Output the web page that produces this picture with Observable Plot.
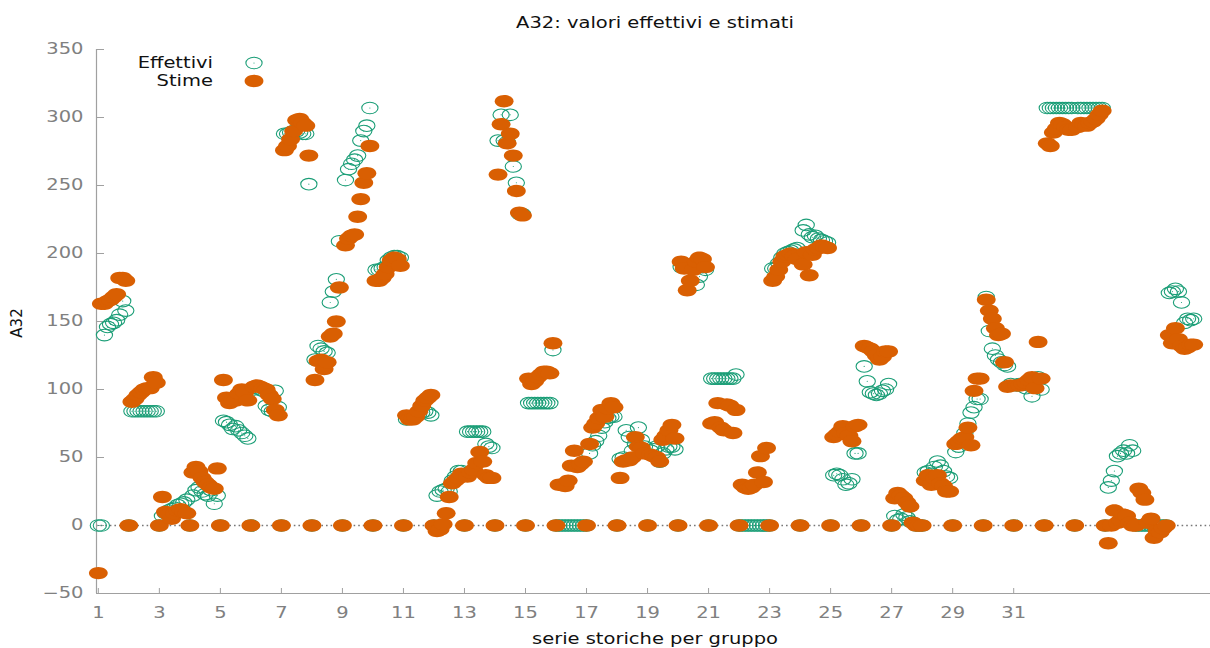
<!DOCTYPE html>
<html><head><meta charset="utf-8">
<script src="https://cdn.jsdelivr.net/npm/d3@7"></script>
<script src="https://cdn.jsdelivr.net/npm/@observablehq/plot@0.6"></script>
<style>body{margin:0;background:#fff} #chart{width:1210px;height:648px}</style>
</head><body><div id="chart"></div>
<script>
// ---- data ----
const groups = d3.range(1, 37); // 36 serie storiche, one per integer x
// each group: 10 observations at x = group + k/10 (k = 0..9)
const effettivi = [
  [0,0,140,146,148,149,151,155,165,158],
  [0,84,84,84,84,84,84,84,84,84],
  [0,7,9,11,12,13,15,16,17,19],
  [0,22,26,28,25,23,22,26,16,22],
  [0,77,76,74,71,73,70,68,66,64],
  [0,100,101,100,99,88,85,84,99,87],
  [0,288,288,289,290,290,289,288,288,251],
  [0,122,132,130,128,127,164,172,181,209],
  [0,254,262,266,269,272,283,290,294,307],
  [0,188,188,189,190,195,197,198,198,197],
  [0,78,79,80,81,82,83,84,83,81],
  [0,22,25,26,27,25,33,36,40,40],
  [0,69,69,69,69,69,69,60,58,57],
  [0,283,302,283,282,302,264,252,229,229],
  [0,90,90,90,90,90,90,90,90,129],
  [0,0,0,0,0,0,0,0,0,0],
  [0,53,59,62,66,72,76,79,80,80],
  [0,49,50,70,65,55,60,72,63,58],
  [0,55,56,58,47,53,56,58,58,56],
  [0,190,191,191,192,190,177,183,190,188],
  [0,108,108,108,108,108,108,108,108,111],
  [0,0,0,0,0,0,0,0,0,0],
  [0,189,189,193,197,200,201,202,203,204],
  [0,217,221,214,212,213,211,210,209,208],
  [0,37,38,37,34,30,31,34,53,53],
  [0,117,106,98,97,96,97,99,100,104],
  [0,7,4,5,8,6,3,2,0,0],
  [0,39,40,38,43,47,44,40,36,35],
  [0,54,58,63,68,75,83,87,93,93],
  [0,168,143,130,125,122,120,118,117,104],
  [0,103,104,104,101,103,95,107,109,100],
  [0,307,307,307,307,307,307,307,307,307],
  [0,307,307,307,307,307,307,307,307,307],
  [0,28,33,40,51,53,55,53,59,55],
  [0,0,0,0,0,0,0,0,0,0],
  [0,171,172,174,172,164,149,152,151,152]
];
const stime = [
  [-35,163,163,165,166,168,170,182,182,180],
  [0,91,93,96,98,100,101,101,109,105],
  [0,21,10,8,5,9,11,12,10,9],
  [0,39,43,40,35,32,30,28,27,42],
  [0,107,94,90,92,92,97,100,98,92],
  [0,102,103,102,101,100,96,93,85,81],
  [0,276,279,284,290,298,299,296,294,272],
  [0,107,121,122,115,120,139,141,150,175],
  [0,206,211,213,214,227,240,252,259,279],
  [0,180,180,182,185,190,195,197,196,191],
  [0,81,78,78,80,84,88,92,94,96],
  [0,-4,-3,1,9,21,31,33,35,38],
  [0,36,39,41,46,54,47,37,35,35],
  [0,258,295,312,281,288,272,246,230,228],
  [0,108,104,106,109,111,113,113,112,134],
  [0,30,30,29,33,44,55,43,45,47],
  [0,60,72,75,79,85,80,86,90,87],
  [0,35,47,48,48,50,65,58,57,53],
  [0,52,51,50,47,63,66,70,74,64],
  [0,194,189,173,180,188,194,197,196,190],
  [0,75,76,90,72,70,89,88,68,85],
  [0,30,28,27,28,30,39,51,32,57],
  [0,180,183,188,194,198,199,200,198,196],
  [0,192,201,184,199,203,204,206,205,204],
  [0,65,67,69,73,68,66,62,73,74],
  [0,132,131,130,128,125,122,124,128,128],
  [0,20,24,22,20,17,14,2,0,0],
  [0,33,37,30,35,37,31,29,25,25],
  [0,60,62,64,65,72,59,99,108,108],
  [0,166,158,152,145,140,141,120,102,103],
  [0,103,103,104,105,107,109,101,135,108],
  [0,281,279,289,292,296,295,293,291,291],
  [0,293,296,295,294,296,297,299,302,305],
  [0,-13,0,11,2,4,8,7,2,0],
  [0,27,24,19,2,5,-9,-4,-5,-2],
  [0,140,134,145,137,132,130,131,133,133]
];
const xTicks = [1,3,5,7,9,11,13,15,17,19,21,23,25,27,29,31];
const yTicks = [-50,0,50,100,150,200,250,300,350];
const seriesNames = ["Effettivi", "Stime"];
const titleText = "A32: valori effettivi e stimati";
const xLabelText = "serie storiche per gruppo";
const yLabelText = "A32";

// ---- build table ----
const rows = [];
groups.forEach((g, i) => effettivi[i].forEach((e, k) => rows.push({x: g + k / 10, e, s: stime[i][k]})));

const GREEN = "#1b9e77", ORANGE = "#d95f02", GREY = "#808080";
const W = 1210, H = 648, mL = 96, mR = 0, mT = 49, mB = 55;
const fw = W - mL - mR, fh = H - mT - mB;
const xDom = [0.94, 37.45], yDom = [-50, 350];
const STRETCH = 1.3;

function ellipse(aspect) {
  return {draw(ctx, size) {
    const ry = Math.sqrt(size / Math.PI), rx = ry * aspect, k = 0.5523;
    ctx.moveTo(rx, 0);
    ctx.bezierCurveTo(rx, ry * k, rx * k, ry, 0, ry);
    ctx.bezierCurveTo(-rx * k, ry, -rx, ry * k, -rx, 0);
    ctx.bezierCurveTo(-rx, -ry * k, -rx * k, -ry, 0, -ry);
    ctx.bezierCurveTo(rx * k, -ry, rx, -ry * k, rx, 0);
    ctx.closePath();
  }};
}

const chart = Plot.plot({
  width: W, height: H,
  marginLeft: mL, marginRight: mR, marginTop: mT, marginBottom: mB,
  style: {fontFamily: "'DejaVu Sans', sans-serif", fontSize: "15px", background: "#fff", overflow: "visible"},
  x: {domain: xDom, axis: null},
  y: {domain: yDom, axis: null},
  marks: [
    Plot.ruleY([0], {stroke: "#777", strokeDasharray: "1.6,3", strokeWidth: 1.3}),
    Plot.ruleX([xDom[0]], {stroke: "#a0a0a0", strokeWidth: 1.2}),
    Plot.ruleY([yDom[0]], {stroke: "#a0a0a0", strokeWidth: 1.2}),
    Plot.ruleY(yTicks, {insetRight: fw - 8, stroke: "#a0a0a0"}),
    Plot.ruleX(xTicks, {insetTop: fh - 5, stroke: "#a0a0a0"}),
    Plot.axisX(xTicks, {tickSize: 0, tickPadding: 13.5, color: GREY, label: null, fontSize: 15}),
    Plot.axisY(yTicks, {tickSize: 0, tickPadding: 13, color: GREY, label: null, fontSize: 15}),
    Plot.dot(rows, {x: "x", y: "e", r: 5.8, symbol: ellipse(1.4), stroke: GREEN, strokeWidth: 1.1, fill: "none"}),
    Plot.dot(rows, {x: "x", y: "e", r: 0.55, fill: GREEN}),
    Plot.dot(rows, {x: "x", y: "s", r: 6.2, symbol: ellipse(1.52), fill: ORANGE, stroke: "none"})
  ]
});
document.getElementById("chart").appendChild(chart);

// extra text: title, axis labels, legend
const svg = d3.select(chart);
svg.append("text").attr("x", 655).attr("y", 28.5).attr("text-anchor", "middle")
  .attr("fill", "#111").attr("font-size", 15).text(titleText);
svg.append("text").attr("x", 655).attr("y", 644).attr("text-anchor", "middle")
  .attr("fill", "#111").attr("font-size", 15).text(xLabelText);
svg.append("text").attr("transform", "translate(22,323) rotate(-90)").attr("text-anchor", "middle")
  .attr("fill", "#111").attr("font-size", 15).attr("class", "rot").text(yLabelText);
const legendY = [63, 81];
seriesNames.forEach((name, i) => {
  svg.append("text").attr("x", 213).attr("y", legendY[i] + 5.5).attr("text-anchor", "end")
    .attr("fill", "#111").attr("font-size", 15).text(name);
});
svg.append("path").attr("transform", `translate(254,${legendY[0]})`)
  .attr("d", d3.symbol(ellipse(1.4), 5.8 * 5.8 * Math.PI)()).attr("fill", "none").attr("stroke", GREEN).attr("stroke-width", 1.1);
svg.append("circle").attr("cx", 254).attr("cy", legendY[0]).attr("r", 0.55).attr("fill", GREEN);
svg.append("path").attr("transform", `translate(254,${legendY[1]})`)
  .attr("d", d3.symbol(ellipse(1.52), 6.2 * 6.2 * Math.PI)()).attr("fill", ORANGE);

// horizontal stretch of text to match the reference's wide glyphs
chart.querySelectorAll("text").forEach(t => {
  if (t.classList.contains("rot")) return;
  const bb = t.getBBox();
  const anchor = getComputedStyle(t).textAnchor;
  const cx = anchor === "end" ? bb.x + bb.width : anchor === "middle" ? bb.x + bb.width / 2 : bb.x;
  const prev = t.getAttribute("transform") || "";
  t.setAttribute("transform", `${prev} translate(${cx},0) scale(${STRETCH},1) translate(${-cx},0)`);
});
</script>
</body></html>
